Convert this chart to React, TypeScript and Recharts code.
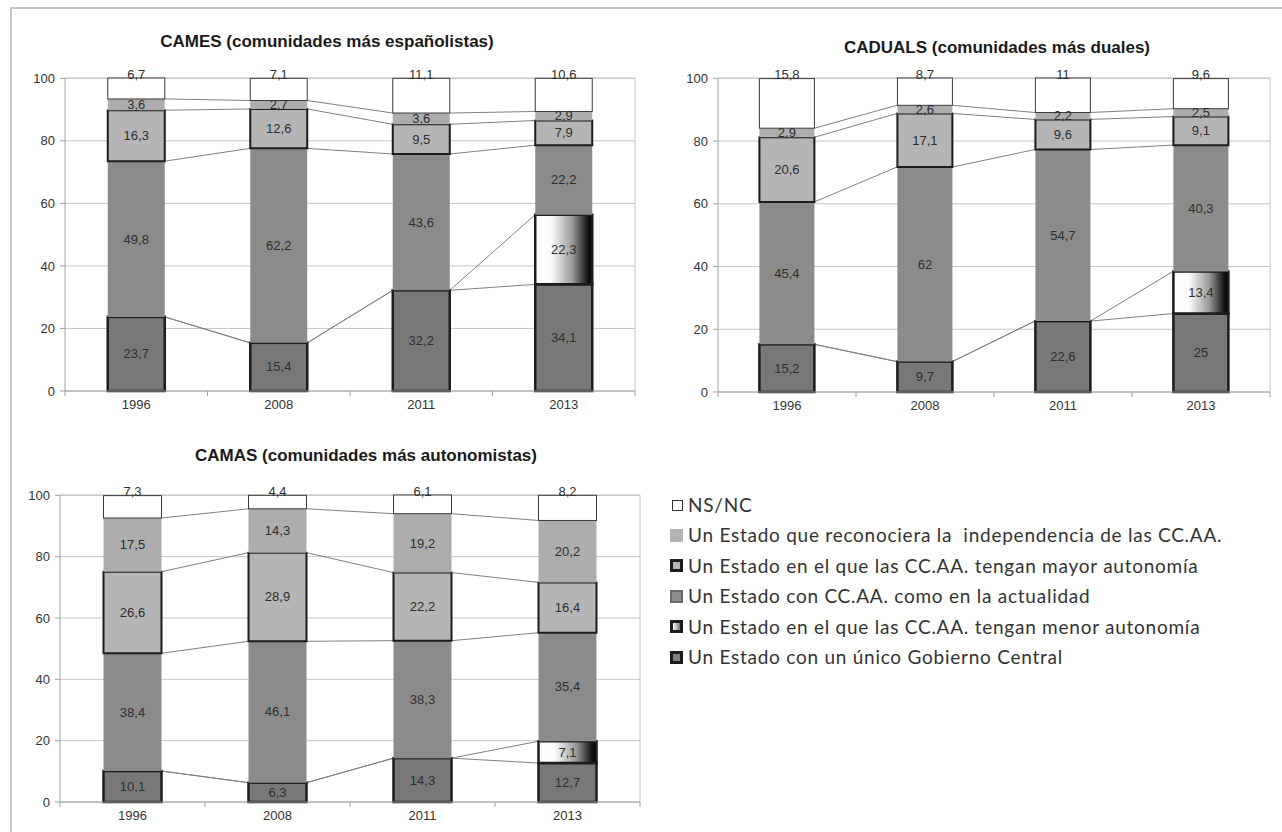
import React from 'react';
import { BarChart, Bar, XAxis, YAxis, CartesianGrid } from 'recharts';

const years = ['1996', '2008', '2011', '2013'];
const yTicks = [0, 20, 40, 60, 80, 100];

// orden de apilado, de abajo arriba
const seriesKeys = ['unico', 'menor', 'actual', 'mayor', 'indep', 'nsnc'];

// CAMES
const camesUnico = [23.7, 15.4, 32.2, 34.1];
const camesMenor = [0, 0, 0, 22.3];
const camesActual = [49.8, 62.2, 43.6, 22.2];
const camesMayor = [16.3, 12.6, 9.5, 7.9];
const camesIndep = [3.6, 2.7, 3.6, 2.9];
const camesNsnc = [6.7, 7.1, 11.1, 10.6];

// CADUALS
const cadualsUnico = [15.2, 9.7, 22.6, 25];
const cadualsMenor = [0, 0, 0, 13.4];
const cadualsActual = [45.4, 62, 54.7, 40.3];
const cadualsMayor = [20.6, 17.1, 9.6, 9.1];
const cadualsIndep = [2.9, 2.6, 2.2, 2.5];
const cadualsNsnc = [15.8, 8.7, 11, 9.6];

// CAMAS
const camasUnico = [10.1, 6.3, 14.3, 12.7];
const camasMenor = [0, 0, 0, 7.1];
const camasActual = [38.4, 46.1, 38.3, 35.4];
const camasMayor = [26.6, 28.9, 22.2, 16.4];
const camasIndep = [17.5, 14.3, 19.2, 20.2];
const camasNsnc = [7.3, 4.4, 6.1, 8.2];

const legendLabels = [
  'NS/NC',
  'Un Estado que reconociera la  independencia de las CC.AA.',
  'Un Estado en el que las CC.AA. tengan mayor autonomía',
  'Un Estado con CC.AA. como en la actualidad',
  'Un Estado en el que las CC.AA. tengan menor autonomía',
  'Un Estado con un único Gobierno Central',
];

function buildRows(unico: number[], menor: number[], actual: number[], mayor: number[], indep: number[], nsnc: number[]) {
  return years.map((year, i) => ({
    year,
    unico: unico[i],
    menor: menor[i],
    actual: actual[i],
    mayor: mayor[i],
    indep: indep[i],
    nsnc: nsnc[i],
  }));
}

const camesRows = buildRows(camesUnico, camesMenor, camesActual, camesMayor, camesIndep, camesNsnc);
const cadualsRows = buildRows(cadualsUnico, cadualsMenor, cadualsActual, cadualsMayor, cadualsIndep, cadualsNsnc);
const camasRows = buildRows(camasUnico, camasMenor, camasActual, camasMayor, camasIndep, camasNsnc);

const FONT = '"Liberation Sans", Arial, sans-serif';
const DARK = '#1c1c1c';

const barStyle: any = {
  unico: { fill: '#787878', stroke: DARK, strokeWidth: 2.5 },
  menor: { fill: 'url(#menor)', stroke: DARK, strokeWidth: 2.5 },
  actual: { fill: '#8b8b8b', stroke: 'none', strokeWidth: 0 },
  mayor: { fill: '#b5b5b5', stroke: DARK, strokeWidth: 2 },
  indep: { fill: '#adadad', stroke: 'none', strokeWidth: 0 },
  nsnc: { fill: '#ffffff', stroke: '#3a3a3a', strokeWidth: 1 },
};

const fmt = (v: number) => String(v).replace('.', ',');

// bottom segment: also draws the series lines between bars
function unicoShape(rows: any[]) {
  return (props: any) => {
    const { x, y, width, height, index } = props;
    const row = rows[index];
    const next = rows[index + 1];
    const k = height / row.unico;
    const base = y + height;
    const step = width / 0.4; // barCategoryGap 30%
    const lines: any[] = [];
    if (next) {
      let c0 = 0;
      let c1 = 0;
      seriesKeys.slice(0, -1).forEach((key) => {
        c0 += row[key];
        c1 += next[key];
        lines.push(
          <line key={key} x1={x + width} y1={base - c0 * k} x2={x + step} y2={base - c1 * k}
            stroke="#808080" strokeWidth={1} />
        );
      });
    }
    return (
      <g>
        {lines}
        <rect x={x} y={y} width={width} height={height} {...barStyle.unico} />
      </g>
    );
  };
}

// top segment: draws every value label of the column, so they sit above all bars
function nsncShape(rows: any[]) {
  return (props: any) => {
    const { x, y, width, height, index } = props;
    const row = rows[index];
    const k = height / row.nsnc;
    let below = 0;
    seriesKeys.slice(0, -1).forEach((key) => (below += row[key]));
    const base = y + height + below * k;
    const cx = x + width / 2;
    const texts: any[] = [];
    let cum = 0;
    seriesKeys.forEach((key) => {
      const v = row[key];
      if (v > 0) {
        const ty = key === 'nsnc' ? y - 4 : base - (cum + v / 2) * k;
        texts.push(
          <text key={key} x={cx} y={ty} textAnchor="middle" dominantBaseline="central"
            fontFamily={FONT} fontSize={13} fill="#2e2e2e">
            {fmt(v)}
          </text>
        );
      }
      cum += v;
    });
    return (
      <g>
        <rect x={x} y={y} width={width} height={height} {...barStyle.nsnc} />
        {texts}
      </g>
    );
  };
}

function YearTick(props: any) {
  const { x, y, payload, index, visibleTicksCount, width } = props;
  const half = payload.offset || width / visibleTicksCount / 2;
  const axisY = y - 8;
  return (
    <g>
      <line x1={x - half} y1={axisY} x2={x - half} y2={axisY + 5} stroke="#a0a0a0" />
      {index === visibleTicksCount - 1 && (
        <line x1={x + half} y1={axisY} x2={x + half} y2={axisY + 5} stroke="#a0a0a0" />
      )}
      <text x={x} y={y + 1} dy="0.71em" textAnchor="middle" fontFamily={FONT} fontSize={13} fill="#333">
        {payload.value}
      </text>
    </g>
  );
}

function StackChart({ id, rows, width, height, margin }: any) {
  return (
    <BarChart width={width} height={height} data={rows} margin={margin} barCategoryGap="30%">
      <defs>
        <linearGradient id={`menor-${id}`} x1="0" y1="0" x2="1" y2="0">
          <stop offset="0%" stopColor="#ffffff" />
          <stop offset="28%" stopColor="#fbfbfb" />
          <stop offset="65%" stopColor="#9a9a9a" />
          <stop offset="92%" stopColor="#141414" />
          <stop offset="100%" stopColor="#000000" />
        </linearGradient>
      </defs>
      <CartesianGrid stroke="#c6c6c6"
        verticalCoordinatesGenerator={({ offset }: any) => [offset.left + offset.width]} />
      <XAxis dataKey="year" interval={0} height={30} tickSize={6} tickMargin={2} tickLine={false}
        axisLine={{ stroke: '#a0a0a0' }} tick={<YearTick />} />
      <YAxis domain={[0, 100]} ticks={yTicks} width={50} tickSize={5} tickMargin={5}
        axisLine={{ stroke: '#a0a0a0' }} tickLine={{ stroke: '#a0a0a0' }}
        tick={{ fontFamily: FONT, fontSize: 13, fill: '#333' }} />
      {seriesKeys.map((key) => {
        const st = barStyle[key];
        let shape: any = undefined;
        if (key === 'unico') shape = unicoShape(rows);
        if (key === 'nsnc') shape = nsncShape(rows);
        return (
          <Bar key={key} dataKey={key} stackId="a" isAnimationActive={false}
            fill={key === 'menor' ? `url(#menor-${id})` : st.fill}
            stroke={st.stroke} strokeWidth={st.strokeWidth} shape={shape} />
        );
      })}
    </BarChart>
  );
}

function LegendSwatch({ i }: { i: number }) {
  const base: any = { display: 'inline-block', width: 13, height: 13, boxSizing: 'border-box', marginRight: 5, verticalAlign: 'middle' };
  const looks: any[] = [
    { background: '#fff', border: '1.5px solid #333', width: 11, height: 11, marginLeft: 2 },
    { background: '#b3b3b3' },
    { background: '#b5b5b5', border: '3px solid #1c1c1c' },
    { background: '#8b8b8b', border: '2px solid #6a6a6a' },
    { background: 'linear-gradient(to right, #ffffff, #777)', border: '3px solid #1c1c1c' },
    { background: '#808080', border: '3px solid #1c1c1c' },
  ];
  return <span style={{ ...base, ...looks[i] }} />;
}

function Title({ text, cx, cy }: any) {
  return (
    <div style={{
      position: 'absolute', left: cx, top: cy - 10, transform: 'translateX(-50%)', whiteSpace: 'nowrap',
      fontFamily: FONT, fontWeight: 'bold', fontSize: 17, lineHeight: '20px', color: '#1a1a1a',
    }}>
      {text}
    </div>
  );
}

export default function App() {
  return (
    <div style={{ position: 'absolute', left: 0, top: 0, width: 1282, height: 832, background: '#fff', overflow: 'hidden' }}>
      <div style={{ position: 'absolute', left: 10, top: 7, width: 1280, height: 830, borderTop: '2px solid #c8c8c8', borderLeft: '2px solid #c8c8c8' }} />

      <Title text="CAMES (comunidades más españolistas)" cx={327} cy={42} />
      <Title text="CADUALS (comunidades más duales)" cx={997} cy={48} />
      <Title text="CAMAS (comunidades más autonomistas)" cx={366} cy={456} />

      <div style={{ position: 'absolute', left: 0, top: 0 }}>
        <StackChart id="cames" rows={camesRows} width={645} height={421}
          margin={{ top: 78, right: 10, bottom: 0, left: 15 }} />
      </div>
      <div style={{ position: 'absolute', left: 640, top: 0 }}>
        <StackChart id="caduals" rows={cadualsRows} width={640} height={422}
          margin={{ top: 78, right: 10, bottom: 0, left: 28 }} />
      </div>
      <div style={{ position: 'absolute', left: 0, top: 440 }}>
        <StackChart id="camas" rows={camasRows} width={650} height={392}
          margin={{ top: 55, right: 10, bottom: 0, left: 10 }} />
      </div>

      <div style={{ position: 'absolute', left: 670, top: 488 }}>
        {legendLabels.map((label, i) => (
          <div key={label} style={{ height: 30.4, lineHeight: '30px', whiteSpace: 'pre', fontFamily: 'Lato, sans-serif', fontSize: 19, letterSpacing: 0.75, color: '#333' }}>
            <LegendSwatch i={i} />
            <span style={{ verticalAlign: 'middle' }}>{label}</span>
          </div>
        ))}
      </div>
    </div>
  );
}
